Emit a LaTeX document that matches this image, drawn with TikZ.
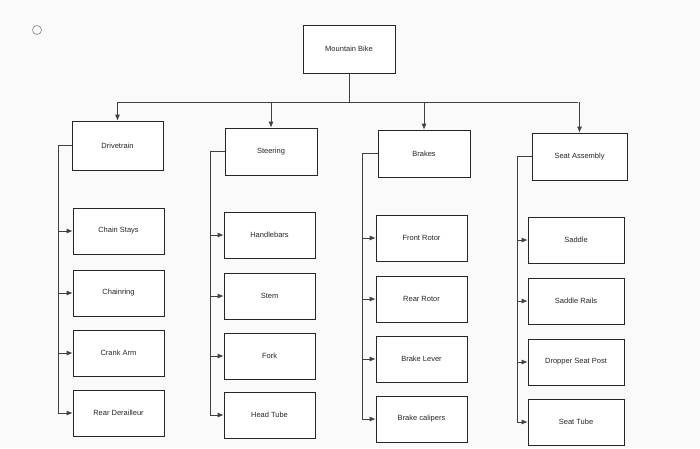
\documentclass[tikz,border=0pt]{standalone}
\usepackage{fontspec}
\setmainfont{Liberation Sans}
\usetikzlibrary{arrows.meta}
\begin{document}
\begin{tikzpicture}[x=1pt,y=-1pt,
  box/.style={draw=black!85,line width=0.7pt,fill=white,font=\fontsize{7.5}{9}\selectfont,text=black!85,inner sep=0pt},
  ln/.style={draw=black!75,line width=0.8pt},
  arr/.style={ln,-{Latex[length=6pt,width=5pt]}}]
\fill[white!96!gray] (0,0) rectangle (700,448);
\useasboundingbox (0,0) rectangle (700,448);
\draw[black!50,line width=0.6pt] (37,30) circle (4.5);
\node[box,minimum width=92pt,minimum height=48pt] (MB) at (349,49) {Mountain Bike};
\coordinate (J) at (349,102);
\coordinate (BL) at (118,102);
\coordinate (BR) at (578,102);
\draw[ln] (MB.south) -- (J);
\draw[ln] (BL) -- (BR);
\node[box,minimum width=91pt,minimum height=49pt] (D) at (117.5,145.5) {Drivetrain};
\node[box,minimum width=92pt,minimum height=47pt] (S) at (271,151.5) {Steering};
\node[box,minimum width=92pt,minimum height=47pt] (B) at (424,153.5) {Brakes};
\node[box,minimum width=95pt,minimum height=47pt] (A) at (579.5,156.5) {Seat Assembly};
\foreach \n in {D,S,B,A} \draw[arr] (\n.north |- BL) -- (\n.north);
% children
\foreach \n/\t/\y in {D1/Chain Stays/231,D2/Chainring/293,D3/Crank Arm/353,D4/Rear Derailleur/413}
  \node[box,minimum width=91pt,minimum height=46pt] (\n) at (118.5,\y) {\t};
\foreach \n/\t/\y in {S1/Handlebars/235,S2/Stem/296,S3/Fork/356,S4/Head Tube/415}
  \node[box,minimum width=91pt,minimum height=46pt] (\n) at (269.5,\y) {\t};
\foreach \n/\t/\y in {B1/Front Rotor/238,B2/Rear Rotor/299,B3/Brake Lever/359,B4/Brake calipers/419}
  \node[box,minimum width=91pt,minimum height=46pt] (\n) at (421.5,\y) {\t};
\foreach \n/\t/\y in {A1/Saddle/240,A2/Saddle Rails/301,A3/Dropper Seat Post/362,A4/Seat Tube/422}
  \node[box,minimum width=96pt,minimum height=46pt] (\n) at (576,\y) {\t};
\coordinate (sD) at (58,145.5);
\coordinate (sS) at (210,151.5);
\coordinate (sB) at (362,153.5);
\coordinate (sA) at (517,156.5);
\foreach \p in {D,S,B,A}{
  \draw[ln] (\p.west) -- (s\p) -- (s\p |- \p4.west);
  \foreach \i in {1,2,3,4} \draw[arr] (s\p |- \p\i.west) -- (\p\i.west);
}
\end{tikzpicture}
\end{document}
